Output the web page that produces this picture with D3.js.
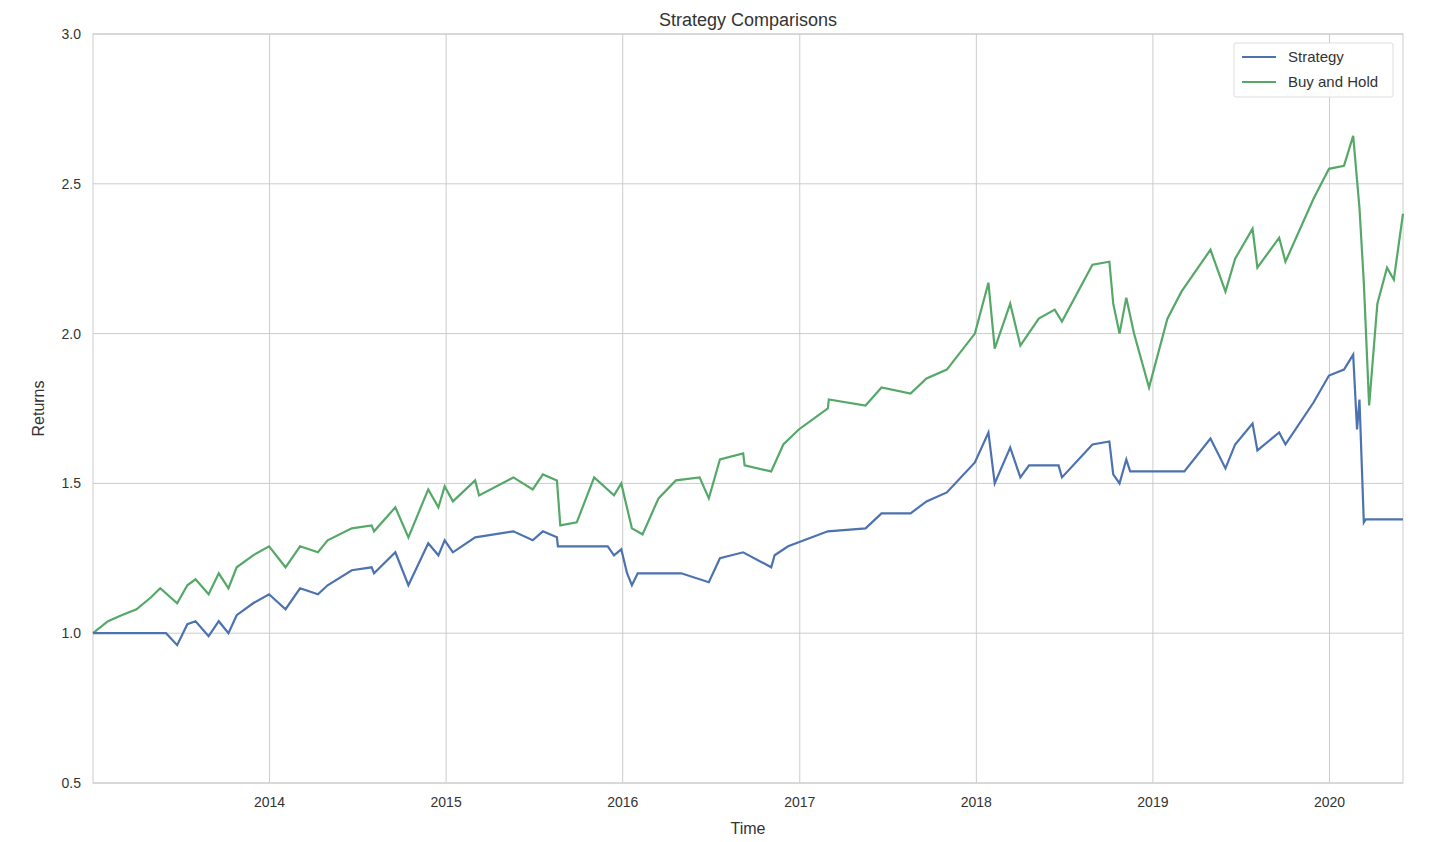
<!DOCTYPE html>
<html><head><meta charset="utf-8">
<script src="https://cdn.jsdelivr.net/npm/d3@7"></script>
<style>body{margin:0;background:#fff;font-family:"Liberation Sans",Arial,sans-serif}</style>
</head><body><svg id="c" width="1450" height="842"></svg>
<script>
const buyHold = [
["2013-01-01",1.00],["2013-02-01",1.04],["2013-03-01",1.06],["2013-04-01",1.08],["2013-05-01",1.12],["2013-05-20",1.15],["2013-06-24",1.10],["2013-07-15",1.16],["2013-08-01",1.18],["2013-08-28",1.13],["2013-09-18",1.20],["2013-10-08",1.15],["2013-10-25",1.22],["2013-11-28",1.26],["2013-12-31",1.29],
["2014-02-03",1.22],["2014-03-05",1.29],["2014-04-11",1.27],["2014-05-01",1.31],["2014-06-20",1.35],["2014-07-31",1.36],["2014-08-05",1.34],["2014-09-18",1.42],["2014-10-15",1.32],["2014-11-25",1.48],["2014-12-16",1.42],["2014-12-29",1.49],
["2015-01-15",1.44],["2015-03-02",1.51],["2015-03-10",1.46],["2015-05-20",1.52],["2015-06-29",1.48],["2015-07-20",1.53],["2015-08-18",1.51],["2015-08-25",1.36],["2015-09-28",1.37],["2015-11-03",1.52],["2015-12-14",1.46],["2015-12-29",1.50],
["2016-01-20",1.35],["2016-02-11",1.33],["2016-03-15",1.45],["2016-04-20",1.51],["2016-06-08",1.52],["2016-06-27",1.45],["2016-07-20",1.58],["2016-09-06",1.60],["2016-09-09",1.56],["2016-11-03",1.54],["2016-11-28",1.63],["2016-12-30",1.68],
["2017-02-28",1.75],["2017-03-02",1.78],["2017-05-17",1.76],["2017-06-19",1.82],["2017-08-18",1.80],["2017-09-20",1.85],["2017-11-01",1.88],["2017-12-29",2.00],
["2018-01-26",2.17],["2018-02-08",1.95],["2018-03-12",2.10],["2018-04-02",1.96],["2018-05-10",2.05],["2018-06-12",2.08],["2018-06-27",2.04],["2018-08-29",2.23],["2018-10-03",2.24],["2018-10-11",2.10],["2018-10-24",2.00],["2018-11-07",2.12],["2018-11-23",2.00],["2018-12-24",1.82],
["2019-01-31",2.05],["2019-03-01",2.14],["2019-04-30",2.28],["2019-05-31",2.14],["2019-06-20",2.25],["2019-07-26",2.35],["2019-08-05",2.22],["2019-09-19",2.32],["2019-10-02",2.24],["2019-11-29",2.45],["2019-12-31",2.55],
["2020-01-31",2.56],["2020-02-19",2.66],["2020-03-03",2.42],["2020-03-12",2.17],["2020-03-23",1.76],["2020-04-09",2.10],["2020-04-29",2.22],["2020-05-13",2.18],["2020-06-01",2.40]];
const strategy = [
["2013-01-01",1.00],["2013-06-01",1.00],["2013-06-24",0.96],["2013-07-15",1.03],["2013-08-01",1.04],["2013-08-28",0.99],["2013-09-18",1.04],["2013-10-08",1.00],["2013-10-25",1.06],["2013-11-28",1.10],["2013-12-31",1.13],
["2014-02-03",1.08],["2014-03-05",1.15],["2014-04-11",1.13],["2014-05-01",1.16],["2014-06-20",1.21],["2014-07-31",1.22],["2014-08-05",1.20],["2014-09-18",1.27],["2014-10-15",1.16],["2014-11-25",1.30],["2014-12-16",1.26],["2014-12-29",1.31],
["2015-01-15",1.27],["2015-03-02",1.32],["2015-05-20",1.34],["2015-06-29",1.31],["2015-07-20",1.34],["2015-08-18",1.32],["2015-08-20",1.29],["2015-12-01",1.29],["2015-12-14",1.26],["2015-12-29",1.28],
["2016-01-10",1.20],["2016-01-20",1.16],["2016-02-01",1.20],["2016-05-01",1.20],["2016-06-27",1.17],["2016-07-20",1.25],["2016-09-06",1.27],["2016-11-03",1.22],["2016-11-10",1.26],["2016-12-08",1.29],
["2017-02-28",1.34],["2017-05-17",1.35],["2017-06-19",1.40],["2017-08-18",1.40],["2017-09-20",1.44],["2017-11-01",1.47],["2017-12-29",1.57],
["2018-01-26",1.67],["2018-02-08",1.50],["2018-03-12",1.62],["2018-04-02",1.52],["2018-04-20",1.56],["2018-06-20",1.56],["2018-06-27",1.52],["2018-08-29",1.63],["2018-10-03",1.64],["2018-10-11",1.53],["2018-10-24",1.50],["2018-11-07",1.58],["2018-11-15",1.54],
["2019-03-07",1.54],["2019-04-30",1.65],["2019-05-31",1.55],["2019-06-20",1.63],["2019-07-26",1.70],["2019-08-05",1.61],["2019-09-19",1.67],["2019-10-02",1.63],["2019-11-29",1.77],["2019-12-31",1.86],
["2020-01-31",1.88],["2020-02-19",1.93],["2020-02-27",1.68],["2020-03-03",1.78],["2020-03-12",1.37],["2020-03-16",1.38],["2020-06-01",1.38]];
const yTicks = [0.5,1.0,1.5,2.0,2.5,3.0];
const xTickYears = [2014,2015,2016,2017,2018,2019,2020];

const svg = d3.select("#c");
const L=93,R=1403,T=34,B=783;
const p = d3.timeParse("%Y-%m-%d");
const x = d3.scaleTime().domain([p("2013-01-01"),p("2020-06-01")]).range([L,R]);
const y = d3.scaleLinear().domain([0.5,3.0]).range([B,T]);
const g = svg.append("g");
xTickYears.forEach(yr=>{const xx=x(new Date(yr,0,1));
 g.append("line").attr("x1",xx).attr("x2",xx).attr("y1",T).attr("y2",B).attr("stroke","#cccccc");
 g.append("text").attr("x",xx).attr("y",B+24).attr("text-anchor","middle").attr("font-size",14).attr("fill","#333").text(yr);});
yTicks.forEach(v=>{const yy=y(v);
 g.append("line").attr("x1",L).attr("x2",R).attr("y1",yy).attr("y2",yy).attr("stroke","#cccccc");
 g.append("text").attr("x",L-12).attr("y",yy+5).attr("text-anchor","end").attr("font-size",14).attr("fill","#333").text(v.toFixed(1));});
g.append("rect").attr("x",L).attr("y",T).attr("width",R-L).attr("height",B-T).attr("fill","none").attr("stroke","#cccccc");
const line = d3.line().x(d=>x(p(d[0]))).y(d=>y(d[1]));
svg.append("path").datum(buyHold).attr("d",line).attr("fill","none").attr("stroke","#55a868").attr("stroke-width",2.2);
svg.append("path").datum(strategy).attr("d",line).attr("fill","none").attr("stroke","#4c72b0").attr("stroke-width",2.2);
svg.append("text").attr("x",(L+R)/2).attr("y",26).attr("text-anchor","middle").attr("font-size",18).attr("fill","#333").text("Strategy Comparisons");
svg.append("text").attr("x",(L+R)/2).attr("y",834).attr("text-anchor","middle").attr("font-size",16).attr("fill","#333").text("Time");
svg.append("text").attr("transform",`translate(44,${(T+B)/2}) rotate(-90)`).attr("text-anchor","middle").attr("font-size",16).attr("fill","#333").text("Returns");
const lg = svg.append("g");
lg.append("rect").attr("x",1234).attr("y",43).attr("width",159).attr("height",54).attr("fill","#fff").attr("stroke","#dddddd").attr("rx",2);
[["Strategy","#4c72b0"],["Buy and Hold","#55a868"]].forEach((d,i)=>{const yy=57+i*25;
 lg.append("line").attr("x1",1242).attr("x2",1276).attr("y1",yy).attr("y2",yy).attr("stroke",d[1]).attr("stroke-width",2.2);
 lg.append("text").attr("x",1288).attr("y",yy+5).attr("font-size",15).attr("fill","#333").text(d[0]);});
</script></body></html>
